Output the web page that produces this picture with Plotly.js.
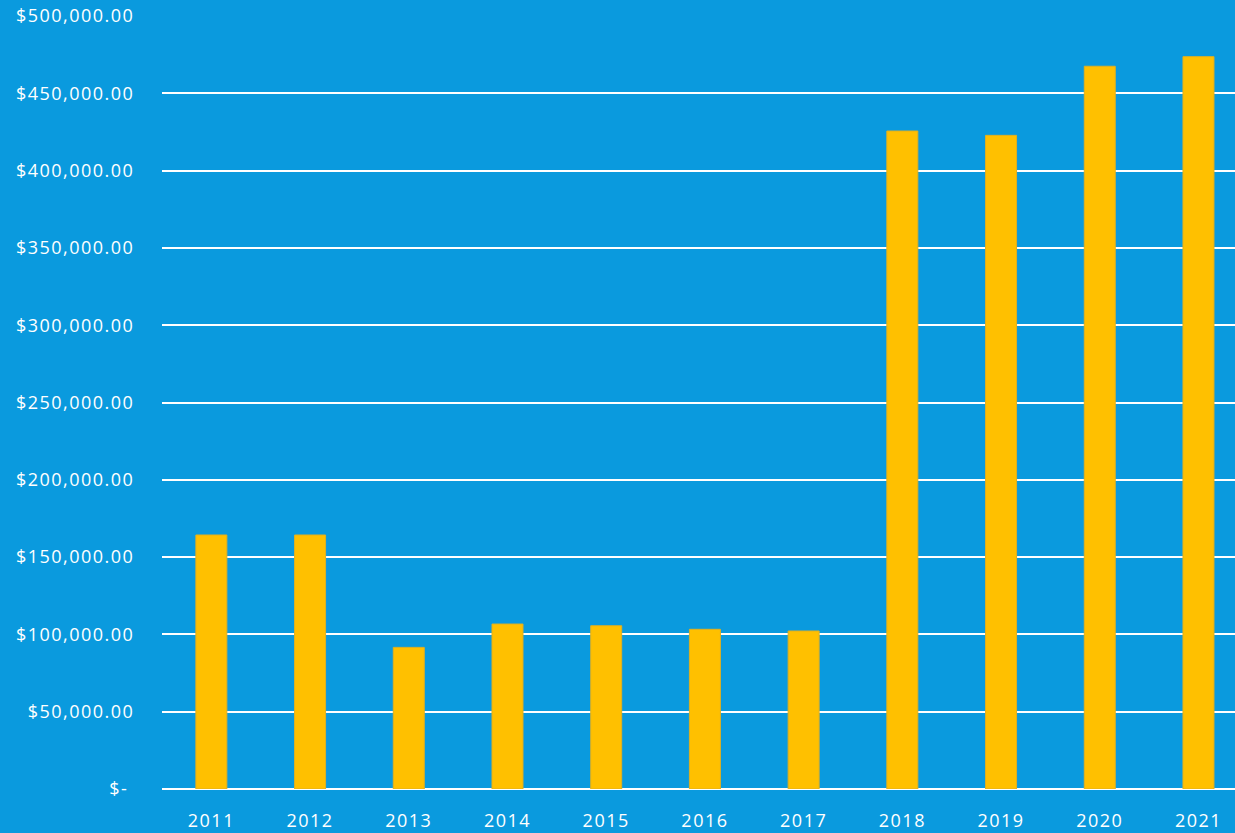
<!DOCTYPE html>
<html>
<head>
<meta charset="utf-8">
<script src="https://cdn.plot.ly/plotly-3.0.1.min.js"></script>
<style>
html,body{margin:0;padding:0;background:#0a9ade;}
#chart{width:1235px;height:833px;}
#chart .xtick text, #chart .ytick text{letter-spacing:1.5px;}
</style>
</head>
<body>
<div id="chart"></div>
<script>
const years = ["2011","2012","2013","2014","2015","2016","2017","2018","2019","2020","2021"];
const amounts = [164300,164300,91600,106700,105600,103300,102200,425600,422800,467500,473700];
const yTickVals = [0,50000,100000,150000,200000,250000,300000,350000,400000,450000,500000];
const yTickText = ["$-\u00a0","$50,000.00","$100,000.00","$150,000.00","$200,000.00","$250,000.00","$300,000.00","$350,000.00","$400,000.00","$450,000.00","$500,000.00"];

const trace = {
  type: "bar",
  x: years,
  y: amounts,
  marker: {color: "#ffc000", line: {color: "#e0b020", width: 1}},
  hoverinfo: "x+y"
};
const font = {family: "'Open Sans', sans-serif", size: 18, color: "#ffffff"};
const layout = {
  width: 1235, height: 833,
  paper_bgcolor: "#0a9ade", plot_bgcolor: "#0a9ade",
  margin: {l: 162, r: 0, t: 16, b: 44},
  bargap: 0.686,
  showlegend: false,
  font: font,
  xaxis: {
    type: "category",
    range: [-0.5, 10.37],
    showgrid: false, zeroline: false, showline: false,
    ticks: "outside", ticklen: 15, tickcolor: "rgba(0,0,0,0)",
    tickfont: font
  },
  yaxis: {
    range: [0, 500000],
    tickvals: yTickVals, ticktext: yTickText,
    showgrid: true, gridcolor: "#ffffff", gridwidth: 2,
    zeroline: true, zerolinecolor: "#ffffff", zerolinewidth: 2,
    showline: false,
    ticks: "outside", ticklen: 23, tickcolor: "rgba(0,0,0,0)",
    tickfont: font
  }
};
Plotly.newPlot("chart", [trace], layout, {displayModeBar: false, staticPlot: true});
</script>
</body>
</html>
